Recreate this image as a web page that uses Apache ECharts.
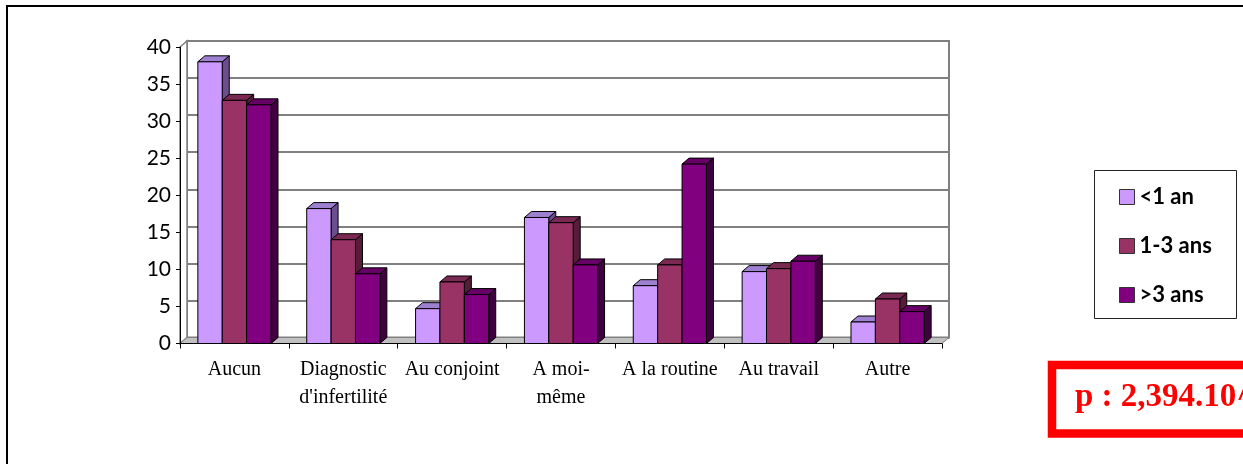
<!DOCTYPE html>
<html>
<head>
<meta charset="utf-8">
<script src="https://cdn.jsdelivr.net/npm/echarts@6/dist/echarts.min.js"></script>
<style>
  html, body { margin: 0; padding: 0; background: #fff; }
  #chart { width: 1243px; height: 464px; }
</style>
</head>
<body>
<div id="chart"></div>
<script>
// categories and values
const categories = ['Aucun', "Diagnostic\nd'infertilité", 'Au conjoint', 'A moi-\nmême', 'A la routine', 'Au travail', 'Autre'];
const seriesNames = ['<1 an', '1-3 ans', '>3 ans'];
const lessThan1 = [38, 18.2, 4.7, 17, 7.8, 9.7, 2.9];
const oneToThree = [32.8, 14, 8.3, 16.3, 10.6, 10.1, 6];
const moreThan3 = [32.2, 9.4, 6.6, 10.6, 24.2, 11.1, 4.3];
const yMin = 0, yMax = 40, yStep = 5;

// front / top / side colours for each series
const faceColors = [
    ['#CC99FF', '#9E80D0', '#6A4E8E'],
    ['#993366', '#7A2952', '#561D3A'],
    ['#800080', '#660066', '#400040']
];

const DX = 7, DY = 6;        // depth of the fake 3D
const BAR_RATIO = 0.224;     // bar width / category width

const chart = echarts.init(document.getElementById('chart'));

function barRenderer(idx) {
    return function (params, api) {
        const ci = api.value(0);
        const v = api.value(1);
        const base = api.coord([ci, 0]);
        const top = api.coord([ci, v]);
        const bw = api.size([1, 0])[0] * BAR_RATIO;
        const x0 = base[0] - 1.5 * bw + idx * bw;
        const x1 = x0 + bw;
        const ty = top[1], by = base[1];
        const c = faceColors[idx];
        const line = { stroke: '#000', lineWidth: 1 };
        return {
            type: 'group',
            children: [
                {
                    type: 'polygon',
                    shape: { points: [[x1, ty], [x1 + DX, ty - DY], [x1 + DX, by - DY], [x1, by]] },
                    style: Object.assign({ fill: c[2] }, line)
                },
                {
                    type: 'polygon',
                    shape: { points: [[x0, ty], [x1, ty], [x1 + DX, ty - DY], [x0 + DX, ty - DY]] },
                    style: Object.assign({ fill: c[1] }, line)
                },
                {
                    type: 'rect',
                    shape: { x: x0, y: ty, width: bw, height: by - ty },
                    style: Object.assign({ fill: c[0] }, line)
                }
            ]
        };
    };
}

// floor and left wall of the 3D box
function wallRenderer(params) {
    const r = params.coordSys;
    const x = r.x, y = r.y, w = r.width, h = r.height;
    return {
        type: 'group',
        children: [
            {
                type: 'polygon',
                shape: { points: [[x, y], [x + DX, y - DY], [x + DX, y + h - DY], [x, y + h]] },
                style: { fill: '#fff', stroke: '#808080', lineWidth: 1.5 }
            },
            {
                type: 'polygon',
                shape: { points: [[x, y + h], [x + w, y + h], [x + w + DX, y + h - DY], [x + DX, y + h - DY]] },
                style: { fill: '#C0C0C0', stroke: '#808080', lineWidth: 1 }
            }
        ]
    };
}

const allValues = [lessThan1, oneToThree, moreThan3];

const barSeries = allValues.map(function (vals, i) {
    return {
        name: seriesNames[i],
        type: 'custom',
        xAxisIndex: 0,
        yAxisIndex: 0,
        z: 3,
        itemStyle: { color: faceColors[i][0] },
        renderItem: barRenderer(i),
        encode: { x: 0, y: 1 },
        data: vals.map(function (v, ci) { return [ci, v]; })
    };
});

chart.setOption({
    animation: false,
    color: faceColors.map(function (c) { return c[0]; }),
    grid: [
        // front plane (axes)
        { left: 180, right: 301, top: 47, bottom: 120.5 },
        // back wall (grid lines)
        {
            left: 180 + DX, right: 301 - DX, top: 47 - DY, bottom: 120.5 + DY,
            show: true, borderColor: '#808080', borderWidth: 2, backgroundColor: '#fff'
        }
    ],
    xAxis: [
        {
            type: 'category',
            gridIndex: 0,
            data: categories,
            z: 10,
            axisLine: { lineStyle: { color: '#000', width: 1 } },
            axisTick: { show: true, length: 5, lineStyle: { color: '#000' } },
            axisLabel: {
                interval: 0,
                margin: 12,
                color: '#000',
                fontFamily: 'Liberation Serif',
                fontSize: 20,
                lineHeight: 28
            }
        },
        {
            type: 'category',
            gridIndex: 1,
            data: categories,
            show: false
        }
    ],
    yAxis: [
        {
            type: 'value',
            gridIndex: 0,
            min: yMin,
            max: yMax,
            interval: yStep,
            z: 10,
            splitLine: { show: false },
            axisLine: { show: true, lineStyle: { color: '#000', width: 1 } },
            axisTick: { show: true, length: 4, lineStyle: { color: '#000' } },
            axisLabel: {
                margin: 9,
                color: '#000',
                fontFamily: 'Lato',
                fontSize: 21
            }
        },
        {
            type: 'value',
            gridIndex: 1,
            min: yMin,
            max: yMax,
            interval: yStep,
            axisLine: { show: false },
            axisTick: { show: false },
            axisLabel: { show: false },
            splitLine: { show: true, lineStyle: { color: '#808080', width: 2 } }
        }
    ],
    legend: {
        data: seriesNames,
        orient: 'vertical',
        left: 1119,
        top: 186,
        padding: 0,
        itemGap: 27,
        itemWidth: 15,
        itemHeight: 15,
        icon: 'rect',
        itemStyle: { borderColor: '#333', borderWidth: 1 },
        textStyle: {
            fontFamily: 'Lato',
            fontWeight: 'bold',
            fontSize: 22,
            lineHeight: 22,
            color: '#000'
        }
    },
    graphic: [
        // outer frame
        {
            type: 'polyline',
            shape: { points: [[7, 464], [7, 6], [1243, 6]] },
            style: { stroke: '#000', lineWidth: 2, fill: null }
        },
        // legend box
        {
            type: 'rect',
            shape: { x: 1094.5, y: 170.5, width: 142, height: 148 },
            style: { fill: null, stroke: '#222', lineWidth: 1 }
        },
        // p-value box
        {
            type: 'rect',
            shape: { x: 1052, y: 365, width: 300, height: 68.5 },
            style: { fill: null, stroke: '#FF0000', lineWidth: 8.5 }
        },
        {
            type: 'text',
            x: 1075,
            y: 397,
            style: {
                text: 'p : 2,394.10^-4',
                fill: '#FF0000',
                fontFamily: 'Liberation Serif',
                fontWeight: 'bold',
                fontSize: 33,
                verticalAlign: 'middle'
            }
        }
    ],
    series: [
        {
            type: 'custom',
            xAxisIndex: 0,
            yAxisIndex: 0,
            z: 1,
            silent: true,
            renderItem: wallRenderer,
            data: [[0, 0]]
        }
    ].concat(barSeries)
});

window.addEventListener('resize', () => {
    chart.resize()
})
</script>
</body>
</html>
